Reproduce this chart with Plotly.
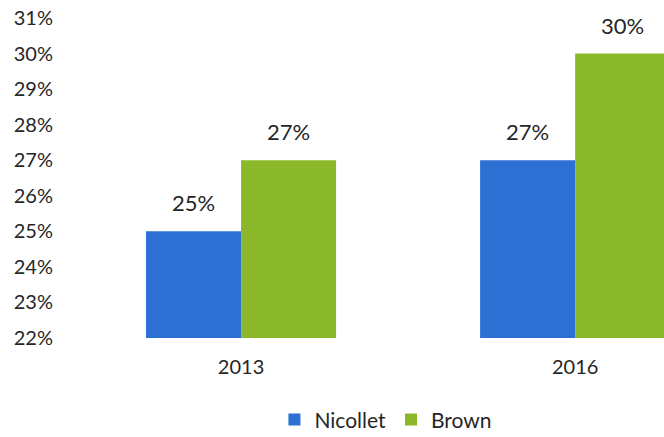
import plotly.graph_objects as go

years = ["2013", "2016"]
nicollet = [25, 27]
brown = [27, 30]
series_names = ["Nicollet", "Brown"]
colors = ["#2b70d2", "#8bb82a"]

font_family = "Lato, 'Open Sans', sans-serif"
text_color = "#262626"

fig = go.Figure()
for name, vals, col in zip(series_names, [nicollet, brown], colors):
    fig.add_trace(go.Bar(
        x=years, y=vals, name=name, marker_color=col, marker_line_width=0,
    ))

# value labels above each bar (category index used for x position)
for i, (name, vals) in enumerate(zip(series_names, [nicollet, brown])):
    for k, v in enumerate(vals):
        fig.add_annotation(
            x=k, y=v, xref="x", yref="y",
            text=f"{v}%", showarrow=False,
            xshift=(-47.5 if i == 0 else 47.5), yshift=13,
            yanchor="bottom",
            font=dict(family=font_family, size=22, color=text_color),
        )

fig.update_layout(
    width=664, height=437,
    margin=dict(l=66, r=0, t=18, b=99, autoexpand=False),
    paper_bgcolor="white", plot_bgcolor="white",
    barmode="group", bargap=0.431, bargroupgap=0,
    showlegend=True,
    legend=dict(
        orientation="h", x=0.535, xanchor="center", y=-0.256, yanchor="middle",
        font=dict(family=font_family, size=21, color=text_color),
        itemwidth=30,
    ),
    xaxis=dict(
        type="category", range=[-0.524, 1.266],
        showgrid=False, zeroline=False, showline=False, ticks="",
        tickfont=dict(family=font_family, size=20, color=text_color),
        ticklabelstandoff=15,
    ),
    yaxis=dict(
        range=[22, 31], dtick=1, ticksuffix="%",
        showgrid=False, zeroline=False, showline=False, ticks="",
        tickfont=dict(family=font_family, size=20, color=text_color),
        ticklabelstandoff=12,
    ),
)

fig.write_html("out.html")
